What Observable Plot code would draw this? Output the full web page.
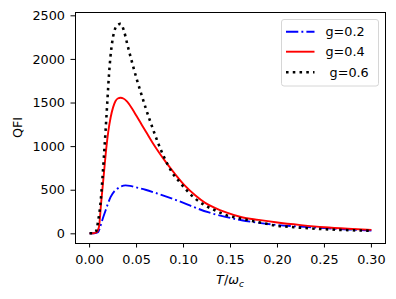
<!DOCTYPE html>
<html>
<head>
<meta charset="utf-8">
<script src="https://cdn.jsdelivr.net/npm/d3@7"></script>
<script src="https://cdn.jsdelivr.net/npm/@observablehq/plot@0.6"></script>
<style>
  html, body { margin: 0; padding: 0; background: #fff; }
  #chart { width: 396px; height: 299px; }
</style>
</head>
<body>
<div id="chart"></div>
<script>
// ---- data ----
const tBlue = [0, 0.005, 0.009, 0.011, 0.013, 0.017, 0.0223, 0.0265, 0.0294, 0.0338, 0.0383, 0.043, 0.049, 0.0595, 0.070, 0.081, 0.0914, 0.100, 0.109, 0.127, 0.1446, 0.162, 0.180, 0.198, 0.225, 0.250, 0.275, 0.300];
const qBlue = [5, 7, 20, 70, 140, 267, 420, 490, 516, 545, 555, 550, 534, 505, 470, 430, 390, 355, 315, 245, 195, 155, 126, 103, 82, 65, 50, 38];

const tRed = [0, 0.004, 0.007, 0.0099, 0.0125, 0.0152, 0.0177, 0.020, 0.0225, 0.025, 0.0275, 0.030, 0.033, 0.036, 0.040, 0.045, 0.050, 0.055, 0.060, 0.0667, 0.075, 0.081, 0.0914, 0.102, 0.1127, 0.123, 0.134, 0.1446, 0.162, 0.180, 0.198, 0.225, 0.250, 0.275, 0.300];
const qRed = [5, 7, 15, 76, 380, 688, 975, 1180, 1340, 1450, 1520, 1552, 1560, 1552, 1515, 1440, 1350, 1260, 1170, 1050, 915, 825, 680, 546, 439, 355, 294, 248, 190, 160, 133, 100, 75, 58, 45];

const tBlack = [0, 0.004, 0.0064, 0.0092, 0.0117, 0.0135, 0.0152, 0.017, 0.0188, 0.0205, 0.0221, 0.0241, 0.026, 0.0285, 0.033, 0.0365, 0.040, 0.0436, 0.047, 0.0507, 0.056, 0.0595, 0.065, 0.070, 0.0737, 0.078, 0.0826, 0.088, 0.095, 0.101, 0.1127, 0.123, 0.134, 0.1446, 0.162, 0.180, 0.198, 0.217, 0.250, 0.275, 0.300];
const qBlack = [7, 8, 18, 153, 362, 611, 880, 1180, 1500, 1800, 2020, 2200, 2310, 2380, 2408, 2331, 2180, 2030, 1895, 1755, 1570, 1450, 1275, 1125, 1020, 910, 805, 700, 605, 527, 401, 325, 267, 218, 172, 133, 95, 76, 53, 42, 35];

const seriesLabels = ["g=0.2", "g=0.4", " g=0.6"];
const seriesColors = ["blue", "red", "black"];
const seriesDash = ["12.3 3.1 1.9 3.1", null, "2.56 4.2"];
const seriesWidth = [1.9, 1.9, 2.56];

const xTicks = [0, 0.05, 0.10, 0.15, 0.20, 0.25, 0.30];
const yTicks = [0, 500, 1000, 1500, 2000, 2500];
const xLabelParts = ["T", "/", "ω", "c"];
const yLabel = "QFI";

// ---- build rows ----
const mk = (ts, qs) => ts.map((t, i) => ({t, q: qs[i]}));
const series = [mk(tBlue, qBlue), mk(tRed, qRed), mk(tBlack, qBlack)];

const W = 396, H = 299;
const mL = 75, mR = 11, mT = 12, mB = 56;
const FONT = "DejaVu Sans";
const FS = 12.8;

const lineMarks = series.map((rows, i) => Plot.line(rows, {
  x: "t", y: "q",
  stroke: seriesColors[i],
  strokeWidth: seriesWidth[i],
  strokeDasharray: seriesDash[i] || undefined,
  strokeLinecap: "butt",
  curve: "monotone-x"
}));

const chart = Plot.plot({
  width: W, height: H,
  marginLeft: mL, marginRight: mR, marginTop: mT, marginBottom: mB,
  style: {fontFamily: FONT, fontSize: FS + "px", background: "white", color: "black", overflow: "visible"},
  x: {domain: [-0.015, 0.315]},
  y: {domain: [-111, 2538]},
  marks: [
    ...lineMarks,
    Plot.frame({stroke: "black", strokeWidth: 1}),
    Plot.axisX({ticks: xTicks, tickFormat: d => d.toFixed(2), tickSize: 4.5, tickPadding: 6.5, label: null, strokeWidth: 1, fontSize: FS}),
    Plot.axisY({ticks: yTicks, tickFormat: d => String(d), tickSize: 4.5, tickPadding: 6, label: null, strokeWidth: 1, fontSize: FS})
  ]
});
document.getElementById("chart").appendChild(chart);

const svg = d3.select(chart);

// x label: T/ω_c
const xl = svg.append("text")
  .attr("x", (mL + (W - mR)) / 2)
  .attr("y", 284)
  .attr("text-anchor", "middle")
  .attr("font-family", FONT)
  .attr("font-size", FS)
  .attr("fill", "black");
xl.append("tspan").attr("font-style", "italic").text(xLabelParts[0]);
xl.append("tspan").text(xLabelParts[1]);
xl.append("tspan").attr("font-style", "italic").text(xLabelParts[2]);
xl.append("tspan").attr("font-style", "italic").attr("font-size", FS * 0.7).attr("dy", 2.5).text(xLabelParts[3]);

// y label
svg.append("text")
  .attr("transform", `translate(21.5,${(mT + (H - mB)) / 2}) rotate(-90)`)
  .attr("text-anchor", "middle")
  .attr("font-family", FONT)
  .attr("font-size", FS)
  .attr("fill", "black")
  .text(yLabel);

// legend
const lg = svg.append("g").attr("text-anchor", "start");
lg.append("rect")
  .attr("x", 281.5).attr("y", 19.5).attr("width", 97).attr("height", 66.5)
  .attr("rx", 2.5)
  .attr("fill", "white").attr("fill-opacity", 0.8)
  .attr("stroke", "#d6d6d6").attr("stroke-width", 1);
const rowY = [31.7, 51.7, 72.2];
seriesLabels.forEach((lab, i) => {
  lg.append("line")
    .attr("x1", 286).attr("x2", 314.5)
    .attr("y1", rowY[i]).attr("y2", rowY[i])
    .attr("stroke", seriesColors[i])
    .attr("stroke-width", seriesWidth[i])
    .attr("stroke-dasharray", seriesDash[i])
    .attr("stroke-linecap", "butt");
  lg.append("text")
    .attr("x", 325.5).attr("y", rowY[i]).attr("dy", "0.35em")
    .attr("text-anchor", "start")
    .attr("font-family", FONT).attr("font-size", FS)
    .attr("fill", "black")
    .style("white-space", "pre")
    .text(lab);
});
</script>
</body>
</html>
